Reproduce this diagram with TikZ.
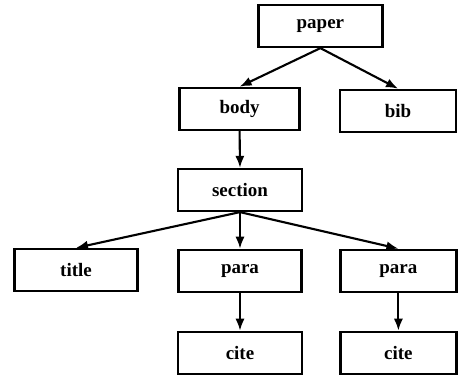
\documentclass[tikz,border=0pt]{standalone}
\usepackage{fontspec}
\setmainfont{Liberation Serif}
\usetikzlibrary{arrows.meta}
\tikzset{
  box/.style={draw, line width=1.6pt, minimum width=3cm, minimum height=1.05cm, inner sep=0pt, font=\fontsize{13.5}{15}\selectfont\bfseries},
  arr/.style={line width=1.5pt, -{Latex[length=3mm,width=2.3mm]}}
}
\begin{document}
\begin{tikzpicture}
			%%%%% START %%%%%
			\useasboundingbox (0, 0) rectangle (11.45, -9.475);
			
			\node[box, minimum width=3.1cm] (paper) at (8.01, -0.65) {paper};
			
			\node[box] (body) at (5.99, -2.72) {body};
			\node[box, minimum width=2.9cm] (bib) at (9.95, -2.77) {bib};
			
			\node[box, minimum width=3.1cm] (section) at (6.0, -4.75) {section};
			
			\node[box, minimum width=3.07cm] (title) at (1.9, -6.75) {title};
			\node[box, minimum width=3.07cm] (para1) at (6.0, -6.77) {para};
			\node[box, minimum width=2.9cm] (para2) at (9.96, -6.77) {para};
			
			\node[box, minimum width=3.1cm] (cite1) at (6.0, -8.82) {cite};
			\node[box, minimum width=2.9cm] (cite2) at (9.96, -8.82) {cite};
			
			\draw[arr] (paper.south) -- (body.north);
			\draw[arr] (paper.south) -- (bib.north);
			\draw[arr] (body.south) -- (section.north);
			\draw[arr] (section.south) -- (title.north);
			\draw[arr] (section.south) -- (para1.north);
			\draw[arr] (section.south) -- (para2.north);
			\draw[arr] (para1.south) -- (cite1.north);
			\draw[arr] (para2.south) -- (cite2.north);
			%%%%% END %%%%%
\end{tikzpicture}
\end{document}
